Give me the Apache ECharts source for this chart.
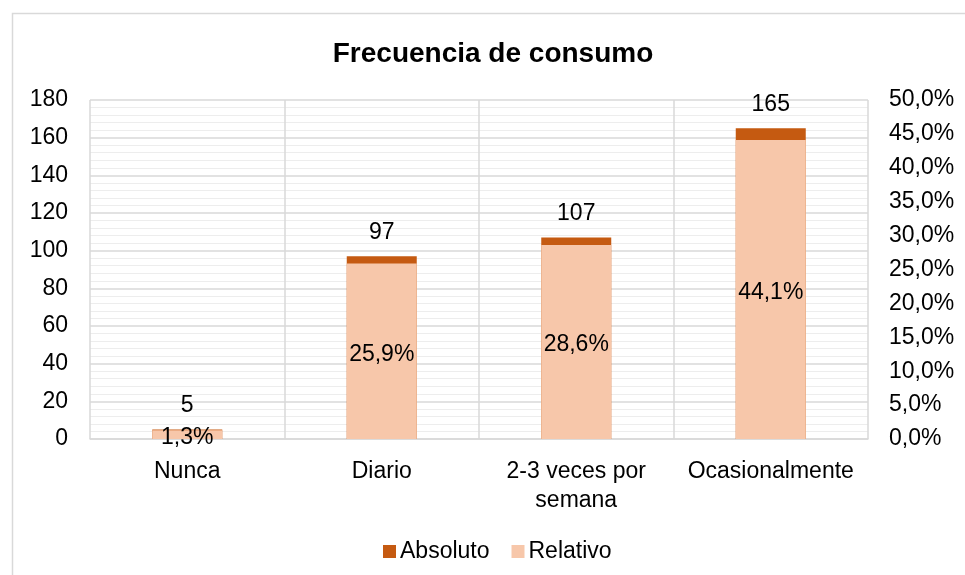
<!DOCTYPE html>
<html>
<head>
<meta charset="utf-8">
<script src="https://cdn.jsdelivr.net/npm/echarts@6/dist/echarts.min.js"></script>
<style>html,body{margin:0;padding:0;background:#fff}#c{width:965px;height:575px}</style>
</head>
<body>
<div id="c"></div>
<script>
const categories = ['Nunca', 'Diario', '2-3 veces por\nsemana', 'Ocasionalmente'];
const absoluto = [5, 97, 107, 165];
const relativo = [0.013, 0.259, 0.286, 0.441];
const leftTicks = {min: 0, max: 180, interval: 20};
const rightTicks = {min: 0, max: 0.5, interval: 0.05};

const FONT = 'Liberation Sans, Arial, sans-serif';
const FS = 23;
const fmtPct = v => (v * 100).toFixed(1).replace('.', ',') + '%';

const chart = echarts.init(document.getElementById('c'), null, {renderer: 'canvas'});
chart.setOption({
  animation: false,
  textStyle: {fontFamily: FONT, color: '#000'},
  graphic: [{
    type: 'rect', silent: true, z: -10,
    shape: {x: 12.5, y: 13.5, width: 2000, height: 2000},
    style: {fill: 'none', stroke: '#d9d9d9', lineWidth: 1.5}
  }],
  title: {
    text: 'Frecuencia de consumo',
    left: 488, top: 35, textAlign: 'center',
    textStyle: {fontFamily: FONT, fontSize: 28, fontWeight: 'bold', color: '#000'}
  },
  legend: {
    data: ['Absoluto', 'Relativo'],
    left: 378, top: 535,
    icon: 'rect', itemWidth: 13, itemHeight: 13, itemGap: 22,
    textStyle: {fontFamily: FONT, fontSize: FS, color: '#000', padding: [0, 0, 0, -1]}
  },
  grid: {left: 90, right: 97, top: 100, bottom: 136},
  xAxis: {
    type: 'category', data: categories,
    axisTick: {show: false},
    axisLine: {lineStyle: {color: '#d9d9d9', width: 1.5}},
    splitLine: {show: true, lineStyle: {color: '#d9d9d9', width: 1.5}},
    axisLabel: {fontFamily: FONT, fontSize: FS, color: '#000', margin: 18, lineHeight: 29, interval: 0}
  },
  yAxis: [{
    type: 'value', min: leftTicks.min, max: leftTicks.max, interval: leftTicks.interval,
    axisLine: {show: false}, axisTick: {show: false},
    splitLine: {show: true, lineStyle: {color: '#d9d9d9', width: 1.5}},
    minorTick: {show: false, splitNumber: 5},
    minorSplitLine: {show: true, lineStyle: {color: '#ededed', width: 1}},
    axisLabel: {fontFamily: FONT, fontSize: FS, color: '#000', margin: 22}
  }, {
    type: 'value', min: rightTicks.min, max: rightTicks.max, interval: rightTicks.interval,
    axisLine: {show: false}, axisTick: {show: false},
    splitLine: {show: false},
    axisLabel: {fontFamily: FONT, fontSize: FS, color: '#000', margin: 21, formatter: fmtPct}
  }],
  series: [{
    name: 'Absoluto', type: 'bar', yAxisIndex: 0, data: absoluto,
    barWidth: 70, barGap: '-100%',
    itemStyle: {color: '#C55A11'},
    label: {show: true, position: 'top', distance: 12, fontFamily: FONT, fontSize: FS, color: '#000'}
  }, {
    name: 'Relativo', type: 'bar', yAxisIndex: 1, data: relativo,
    barWidth: 70, barGap: '-100%',
    itemStyle: {color: '#F7C7AA'},
    label: {show: true, position: 'inside', offset: [0, 3], fontFamily: FONT, fontSize: FS, color: '#000',
      formatter: p => fmtPct(p.value)}
  }]
});
</script>
</body>
</html>
